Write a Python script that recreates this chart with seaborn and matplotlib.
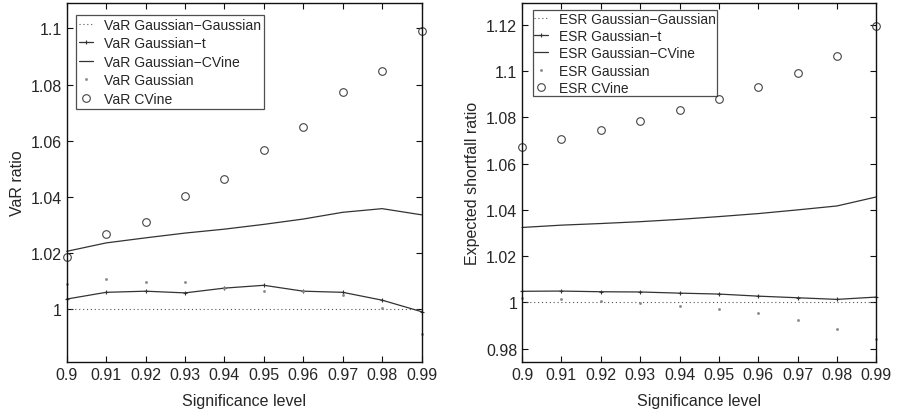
import numpy as np
import matplotlib
matplotlib.use('Agg')
import matplotlib.pyplot as plt
import seaborn as sns

sig = [0.90, 0.91, 0.92, 0.93, 0.94, 0.95, 0.96, 0.97, 0.98, 0.99]

# VaR ratios
var_gg = [1.0] * 10
var_gt = [1.0036, 1.0060, 1.0064, 1.0058, 1.0075, 1.0085, 1.0064, 1.0060, 1.0032, 0.9991]
var_gcv = [1.0206, 1.0236, 1.0254, 1.0271, 1.0285, 1.0302, 1.0321, 1.0345, 1.0358, 1.0336]
var_g = [1.0090, 1.0108, 1.0097, 1.0097, 1.0075, 1.0066, 1.0064, 1.0050, 1.0005, 0.9912]
var_cv = [1.0187, 1.0266, 1.0312, 1.0402, 1.0465, 1.0568, 1.0648, 1.0772, 1.0847, 1.0989]

# ESR ratios
esr_gg = [1.0] * 10
esr_gt = [1.0048, 1.0049, 1.0046, 1.0045, 1.0040, 1.0036, 1.0027, 1.0020, 1.0013, 1.0023]
esr_gcv = [1.0324, 1.0334, 1.0341, 1.0349, 1.0359, 1.0371, 1.0384, 1.0400, 1.0417, 1.0456]
esr_g = [1.0020, 1.0014, 1.0006, 0.9996, 0.9984, 0.9971, 0.9952, 0.9925, 0.9886, 0.9841]
esr_cv = [1.0670, 1.0705, 1.0744, 1.0785, 1.0830, 1.0879, 1.0931, 1.0993, 1.1066, 1.1194]

sns.set_theme(style='ticks')
plt.rcParams['font.family'] = ['Liberation Sans', 'DejaVu Sans']
plt.rcParams['xtick.direction'] = 'in'
plt.rcParams['ytick.direction'] = 'in'

fig = plt.figure(figsize=(8.97, 4.14), dpi=100)
ax1 = fig.add_axes([0.0744, 0.124, 0.3956, 0.866])
ax2 = fig.add_axes([0.582, 0.1225, 0.395, 0.8675])


def draw(ax, pre, gg, gt, gcv, g, cv, leg_pos, leg_fs, leg_sp, leg_bp):
    sns.lineplot(x=sig, y=gg, ax=ax, color='#555555', linestyle=(0, (1, 2.5)),
                 linewidth=0.8, label=pre + ' Gaussian\u2212Gaussian', clip_on=False)
    sns.lineplot(x=sig, y=gt, ax=ax, color='#333333', linewidth=0.9, marker='+',
                 markersize=3.5, markeredgewidth=0.8, markeredgecolor='#333333',
                 label=pre + ' Gaussian\u2212t', clip_on=False)
    sns.lineplot(x=sig, y=gcv, ax=ax, color='#333333', linewidth=0.9,
                 label=pre + ' Gaussian\u2212CVine', clip_on=False)
    sns.lineplot(x=sig, y=g, ax=ax, color='#888888', linestyle='none', marker='.',
                 markersize=3, markeredgecolor='#888888', markeredgewidth=0.5,
                 label=pre + ' Gaussian', clip_on=False)
    sns.lineplot(x=sig, y=cv, ax=ax, color='#444444', linestyle='none', marker='o',
                 markersize=5.5, markerfacecolor='none', markeredgecolor='#444444',
                 markeredgewidth=0.8, label=pre + ' CVine', clip_on=False)
    ax.set_xlim(0.9, 0.99)
    ax.set_xticks(sig)
    ax.set_xticklabels(['0.9', '0.91', '0.92', '0.93', '0.94', '0.95', '0.96', '0.97', '0.98', '0.99'])
    ax.tick_params(labelsize=11.5, length=4, width=0.8, top=True, right=True, color='#111111')
    for s in ax.spines.values():
        s.set_visible(True)
        s.set_linewidth(1.0)
        s.set_color('#111111')
    ax.set_xlabel('Significance level', fontsize=11.5, labelpad=8)
    leg = ax.legend(loc='upper left', bbox_to_anchor=leg_pos, fontsize=leg_fs,
                    frameon=True, fancybox=False, edgecolor='#222222', handlelength=1.0,
                    handletextpad=0.8, labelspacing=leg_sp, borderpad=leg_bp, borderaxespad=0)
    leg.get_frame().set_linewidth(0.9)


draw(ax1, 'VaR', var_gg, var_gt, var_gcv, var_g, var_cv, (0.026, 0.967), 10.1, 0.32, 0.2)
ax1.set_ylim(0.9813, 1.109)
ax1.set_yticks([1.0, 1.02, 1.04, 1.06, 1.08, 1.1])
ax1.set_yticklabels(['1', '1.02', '1.04', '1.06', '1.08', '1.1'])
ax1.set_ylabel('VaR ratio', fontsize=11.5)

draw(ax2, 'ESR', esr_gg, esr_gt, esr_gcv, esr_g, esr_cv, (0.030, 0.980), 9.9, 0.24, 0.1)
ax2.set_ylim(0.9741, 1.1294)
ax2.set_yticks([0.98, 1.0, 1.02, 1.04, 1.06, 1.08, 1.1, 1.12])
ax2.set_yticklabels(['0.98', '1', '1.02', '1.04', '1.06', '1.08', '1.1', '1.12'])
ax2.set_ylabel('Expected shortfall ratio', fontsize=11.5)

fig.savefig('out.png', dpi=100)
